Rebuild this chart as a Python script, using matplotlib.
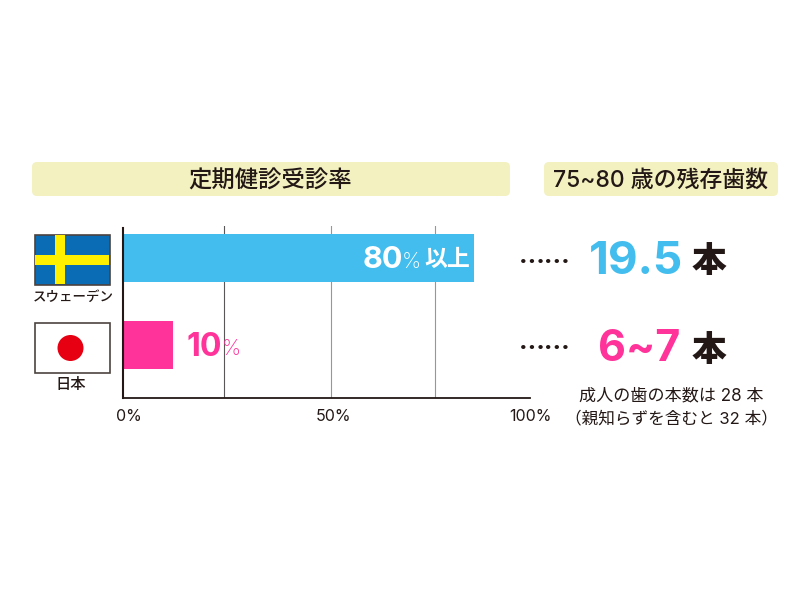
import matplotlib
matplotlib.use('Agg')
import matplotlib.pyplot as plt
from matplotlib.patches import FancyBboxPatch, Rectangle, Circle
from matplotlib.transforms import ScaledTranslation

plt.rcParams['font.family'] = ['Inter', 'Noto Sans CJK JP', 'DejaVu Sans']

# values as drawn on the axis (the bars are longer than their labels say)
countries = ['スウェーデン', '日本']
bar_values = [86.3, 12.3]
bar_colors = ['#42bdee', '#ff3399']
grid_values = [24.9, 51.1, 76.6]
grid_colors = ['#595757', '#9a9694', '#9a9694']
tick_values = [0, 50, 100]
tick_labels = ['0%', '50%', '100%']
teeth_labels = ['19.5', '6~7']

DARK = '#231815'
W, H = 800, 600

fig = plt.figure(figsize=(8, 6), dpi=100)

# overlay in pixel coords for boxes, flags and loose text
over = fig.add_axes([0, 0, 1, 1], zorder=5)
over.set_xlim(0, W)
over.set_ylim(H, 0)
over.axis('off')

for x0, x1 in [(32, 510), (544, 778)]:
    over.add_patch(FancyBboxPatch((x0 + 5, 167), x1 - x0 - 10, 24, boxstyle='round,pad=5,rounding_size=5',
                                  fc='#f3f1c0', ec='none'))
over.text(270, 181, '定期健診受診率', fontsize=16.8, color=DARK, ha='center', va='center', fontweight='medium')
over.text(660.5, 181, '75~80 歳の残存歯数', fontsize=16.5, color=DARK, ha='center', va='center', fontweight='medium')

# sweden flag
over.add_patch(Rectangle((34.5, 234.5), 75, 50, fc='#0a6cb4', ec='#4c4340', lw=1.2))
over.add_patch(Rectangle((35, 255), 74, 10, fc='#fff000', ec='none'))
over.add_patch(Rectangle((54.5, 235), 10.5, 49, fc='#fff000', ec='none'))
# japan flag
over.add_patch(Rectangle((34.5, 322.5), 75, 50, fc='white', ec='#4c4340', lw=1.2))
over.add_patch(Circle((70.5, 348), 13, fc='#e60012', ec='none'))

over.text(73.5, 297, countries[0], fontsize=9.7, color=DARK, ha='center', va='center', fontweight='medium')
over.text(71, 385, countries[1], fontsize=11, color=DARK, ha='center', va='center', fontweight='medium')

# main chart
ax = fig.add_axes([123 / W, 1 - 398 / H, (530 - 123) / W, (398 - 226) / H])
ax.patch.set_alpha(0)
ypos = [1, 0]
ax.set_xlim(0, 100)
ax.set_ylim(-0.609, 1.368)
for v, c in zip(grid_values, grid_colors):
    ax.axvline(v, color=c, lw=0.8, zorder=1)
ax.barh(ypos, bar_values, height=0.55, color=bar_colors, zorder=2)
for s in ['top', 'right']:
    ax.spines[s].set_visible(False)
ax.spines['left'].set_linewidth(1.5)
ax.spines['left'].set_color(DARK)
ax.spines['left'].set_bounds(-0.609, 1.34)
ax.spines['bottom'].set_linewidth(1.3)
ax.spines['bottom'].set_color(DARK)
ax.set_yticks([])
ax.set_xticks(tick_values)
ax.set_xticklabels(tick_labels, fontsize=11.5, color=DARK)
ax.tick_params(axis='x', length=0, pad=8)
for lab, dx in zip(ax.get_xticklabels(), [6, 7, 0]):
    lab.set_transform(lab.get_transform() + ScaledTranslation(dx / 100, 0, fig.dpi_scale_trans))

# bar labels
over.text(363, 260, '80', fontsize=22, color='white', ha='left', va='center', fontweight='bold')
over.text(402, 262, '%', fontsize=15.5, color='white', ha='left', va='center', fontweight='light')
over.text(424, 260, '以上', fontsize=16.5, color='white', ha='left', va='center', fontweight='bold')
over.text(186, 347, '10', fontsize=23, color=bar_colors[1], ha='left', va='center', fontweight='bold')
over.text(222, 349, '%', fontsize=15.5, color=bar_colors[1], ha='left', va='center', fontweight='light')

# right column
for dots_y, num_y, hon_y, lab, c, xc, size in zip([256.7, 342.7], [262, 349.5], [263, 351.5], teeth_labels, bar_colors,
                                                 [636, 639.5], [33, 31]):
    over.text(544.5, dots_y, '……', fontsize=18.7, color=DARK, ha='center', va='center', fontweight='bold')
    over.text(xc, num_y, lab, fontsize=size, color=c, ha='center', va='center', fontweight='bold')
    over.text(709, hon_y, '本', fontsize=25, color=DARK, ha='center', va='center', fontweight='black')

over.text(671, 396, '成人の歯の本数は 28 本', fontsize=12.3, color=DARK, ha='center', va='center')
over.text(671, 418, '（親知らずを含むと 32 本）', fontsize=12, color=DARK, ha='center', va='center')

fig.savefig('out.png', dpi=100)
